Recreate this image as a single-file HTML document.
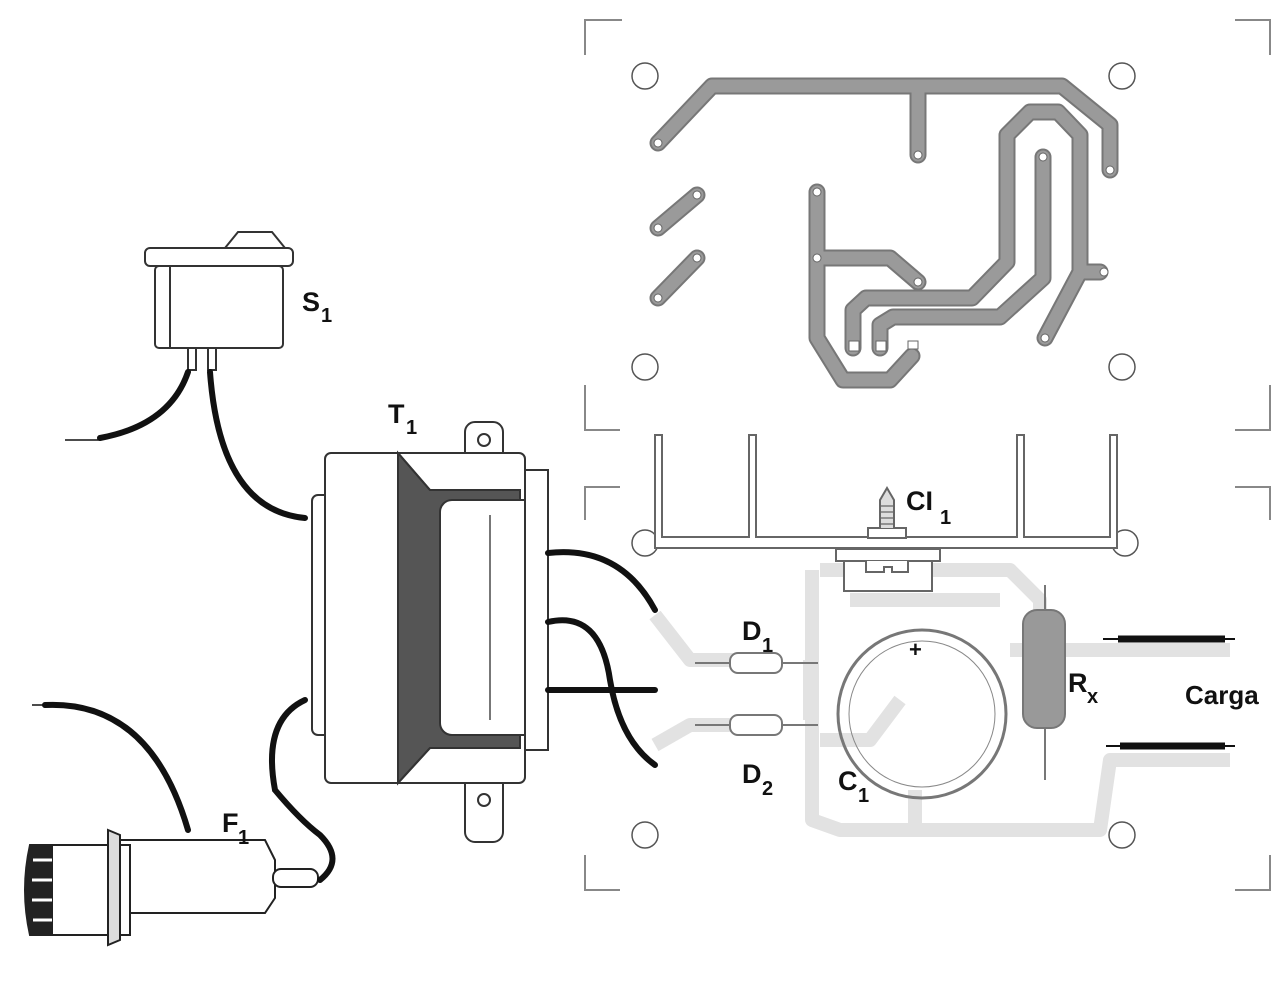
<!DOCTYPE html>
<html><head><style>
html,body{margin:0;padding:0;background:#fff;}
svg{display:block;}
text{font-family:"Liberation Sans",Arial,sans-serif;font-weight:bold;fill:#111;}
</style></head><body>
<svg width="1282" height="986" viewBox="0 0 1282 986" xmlns="http://www.w3.org/2000/svg">
<!-- PCB corner marks -->
<g stroke="#888" stroke-width="2" fill="none">
<path d="M585 55 V20 H622"/><path d="M1235 20 H1270 V55"/>
<path d="M585 385 V430 H620"/><path d="M1270 385 V430 H1235"/>
<path d="M585 520 V487 H620"/><path d="M1270 520 V487 H1235"/>
<path d="M585 855 V890 H620"/><path d="M1270 855 V890 H1235"/>
</g>
<!-- holes -->
<g stroke="#555" stroke-width="1.5" fill="#fff">
<circle cx="645" cy="76" r="13"/><circle cx="1122" cy="76" r="13"/>
<circle cx="645" cy="367" r="13"/><circle cx="1122" cy="367" r="13"/>
<circle cx="645" cy="543" r="13"/><circle cx="1125" cy="543" r="13"/>
<circle cx="645" cy="835" r="13"/><circle cx="1122" cy="835" r="13"/>
</g>
<!-- copper traces top -->
<g fill="none" stroke-linecap="round" stroke-linejoin="round">
<g stroke="#777" stroke-width="17">
<path d="M658 143 L712 86 H1062 L1110 125 V170"/><path d="M918 86 V155"/>
<path d="M658 228 L697 195"/><path d="M658 298 L697 258"/>
<path d="M817 192 V338 L843 380 H890 L912 356"/><path d="M817 258 H890 L918 282"/>
<path d="M853 348 V310 L866 298 H972 L1007 262 V135 L1030 112 H1058 L1080 135 V272 H1100 M1080 272 L1045 338"/>
<path d="M880 348 V325 L893 317 H1000 L1043 278 V157"/>
</g>
<g stroke="#9a9a9a" stroke-width="13">
<path d="M658 143 L712 86 H1062 L1110 125 V170"/><path d="M918 86 V155"/>
<path d="M658 228 L697 195"/><path d="M658 298 L697 258"/>
<path d="M817 192 V338 L843 380 H890 L912 356"/><path d="M817 258 H890 L918 282"/>
<path d="M853 348 V310 L866 298 H972 L1007 262 V135 L1030 112 H1058 L1080 135 V272 H1100 M1080 272 L1045 338"/>
<path d="M880 348 V325 L893 317 H1000 L1043 278 V157"/>
</g>
</g>
<g fill="#fff" stroke="#666" stroke-width="1">
<circle cx="658" cy="143" r="4"/><circle cx="918" cy="155" r="4"/><circle cx="1110" cy="170" r="4"/>
<circle cx="658" cy="228" r="4"/><circle cx="697" cy="195" r="4"/><circle cx="658" cy="298" r="4"/><circle cx="697" cy="258" r="4"/>
<circle cx="817" cy="192" r="4"/><circle cx="817" cy="258" r="4"/><circle cx="918" cy="282" r="4"/>
<circle cx="1043" cy="157" r="4"/><circle cx="1104" cy="272" r="4"/><circle cx="1045" cy="338" r="4"/>
<rect x="849" y="341" width="10" height="10"/><rect x="876" y="341" width="10" height="10"/><rect x="908" y="341" width="10" height="8"/>
</g>
<!-- faint bottom traces -->
<g fill="none" stroke="#e2e2e2" stroke-width="14" stroke-linejoin="round">
<path d="M655 615 L690 660 H740"/><path d="M655 745 L690 725 H740"/>
<path d="M810 660 V720 M812 570 V820 L840 830 H1100 L1110 760 H1230"/>
<path d="M820 570 H1010 L1040 600 V650"/><path d="M850 600 H1000"/>
<path d="M820 740 H870 L900 700"/><path d="M1010 650 H1230"/><path d="M915 790 V830"/>
</g>
<!-- heatsink -->
<g fill="#fff" stroke="#666" stroke-width="2">
<path d="M655 548 V435 H662 V537 H749 V435 H756 V537 H1017 V435 H1024 V537 H1110 V435 H1117 V548 Z"/>
<rect x="868" y="528" width="38" height="10"/>
<rect x="836" y="549" width="104" height="12"/>
<rect x="844" y="561" width="88" height="30"/>
<path d="M866 561 V572 H884 V567 H892 V572 H908 V561"/>
<path d="M880 528 V500 L887 488 L894 500 V528" fill="#ddd"/>
<path d="M881 506 H893 M881 512 H893 M881 518 H893 M881 524 H893" stroke-width="1.2"/>
</g>
<!-- diodes -->
<g stroke="#777" stroke-width="2" fill="#fff">
<path d="M695 663 H818 M695 725 H818"/>
<rect x="730" y="653" width="52" height="20" rx="8"/><rect x="730" y="715" width="52" height="20" rx="8"/>
</g>
<!-- capacitor -->
<circle cx="922" cy="714" r="84" fill="none" stroke="#777" stroke-width="3"/>
<circle cx="922" cy="714" r="73" fill="none" stroke="#888" stroke-width="1"/>
<text x="909" y="657" font-size="22" font-weight="normal">+</text>
<!-- resistor -->
<g stroke="#777" stroke-width="2">
<path d="M1045 585 V780"/>
<rect x="1023" y="610" width="42" height="118" rx="14" fill="#999"/>
</g>
<!-- load leads -->
<g stroke="#111" stroke-width="2"><path d="M1103 639 H1235 M1106 746 H1235"/></g>
<g stroke="#111" stroke-width="7"><path d="M1118 639 H1225 M1120 746 H1225"/></g>
<!-- switch -->
<g stroke="#333" stroke-width="2" fill="#fff">
<path d="M225 248 L238 232 H272 L285 248"/>
<rect x="145" y="248" width="148" height="18" rx="5"/>
<rect x="155" y="266" width="128" height="82" rx="4"/>
<path d="M170 266 V348"/>
<rect x="188" y="348" width="8" height="22"/><rect x="208" y="348" width="8" height="22"/>
</g>
<!-- transformer -->
<g stroke="#333" stroke-width="2" fill="#fff">
<rect x="465" y="422" width="38" height="420" rx="10"/>
<circle cx="484" cy="440" r="6"/><circle cx="484" cy="800" r="6"/>
<rect x="312" y="495" width="30" height="240" rx="6"/>
<rect x="325" y="453" width="200" height="330" rx="6"/>
<path d="M398 453 L430 490 H520 V748 H430 L398 783 Z" fill="#555"/>
<path d="M430 490 L398 453 M430 748 L398 783"/>
<rect x="440" y="500" width="100" height="235" rx="12" fill="#fff"/>
<path d="M490 515 V720" stroke="#777"/>
<rect x="525" y="470" width="23" height="280" fill="#fff"/>
</g>
<!-- fuse holder -->
<g stroke="#222" stroke-width="2" fill="#fff">
<path d="M118 840 H265 L275 860 V898 L265 913 H118 Z"/>
<rect x="273" y="869" width="45" height="18" rx="8"/>
<path d="M52 845 H130 V935 H52 Z" fill="#fff"/>
<path d="M108 830 L120 835 V940 L108 945 Z" fill="#ddd"/>
<path d="M30 845 H52 V935 H30 Q20 890 30 845 Z" fill="#222"/>
<path d="M33 860 H52 M32 880 H52 M32 900 H52 M33 920 H52" stroke="#fff" stroke-width="3"/>
</g>
<!-- wires -->
<g fill="none" stroke="#111" stroke-width="6" stroke-linecap="round">
<path d="M100 438 Q170 425 188 372"/>
<path d="M210 372 Q220 510 305 518"/>
<path d="M548 553 Q620 545 655 610"/>
<path d="M548 622 Q600 610 610 680 Q620 740 655 765"/>
<path d="M548 690 H655"/>
<path d="M305 700 Q262 720 275 790 Q300 820 320 835 Q345 860 320 880"/>
<path d="M45 705 Q150 700 188 830"/>
</g>
<g stroke="#111" stroke-width="1.5"><path d="M65 440 H100 M32 705 H45"/></g>
<!-- labels -->
<text x="302" y="311" font-size="27">S</text><text x="321" y="322" font-size="20">1</text>
<text x="388" y="423" font-size="27">T</text><text x="406" y="434" font-size="20">1</text>
<text x="906" y="510" font-size="27">CI</text><text x="940" y="524" font-size="20">1</text>
<text x="742" y="640" font-size="27">D</text><text x="762" y="652" font-size="20">1</text>
<text x="742" y="783" font-size="27">D</text><text x="762" y="795" font-size="20">2</text>
<text x="838" y="790" font-size="27">C</text><text x="858" y="802" font-size="20">1</text>
<text x="1068" y="692" font-size="27">R</text><text x="1087" y="703" font-size="20">x</text>
<text x="1185" y="704" font-size="26">Carga</text>
<text x="222" y="832" font-size="27">F</text><text x="238" y="844" font-size="20">1</text>
</svg>
</body></html>
